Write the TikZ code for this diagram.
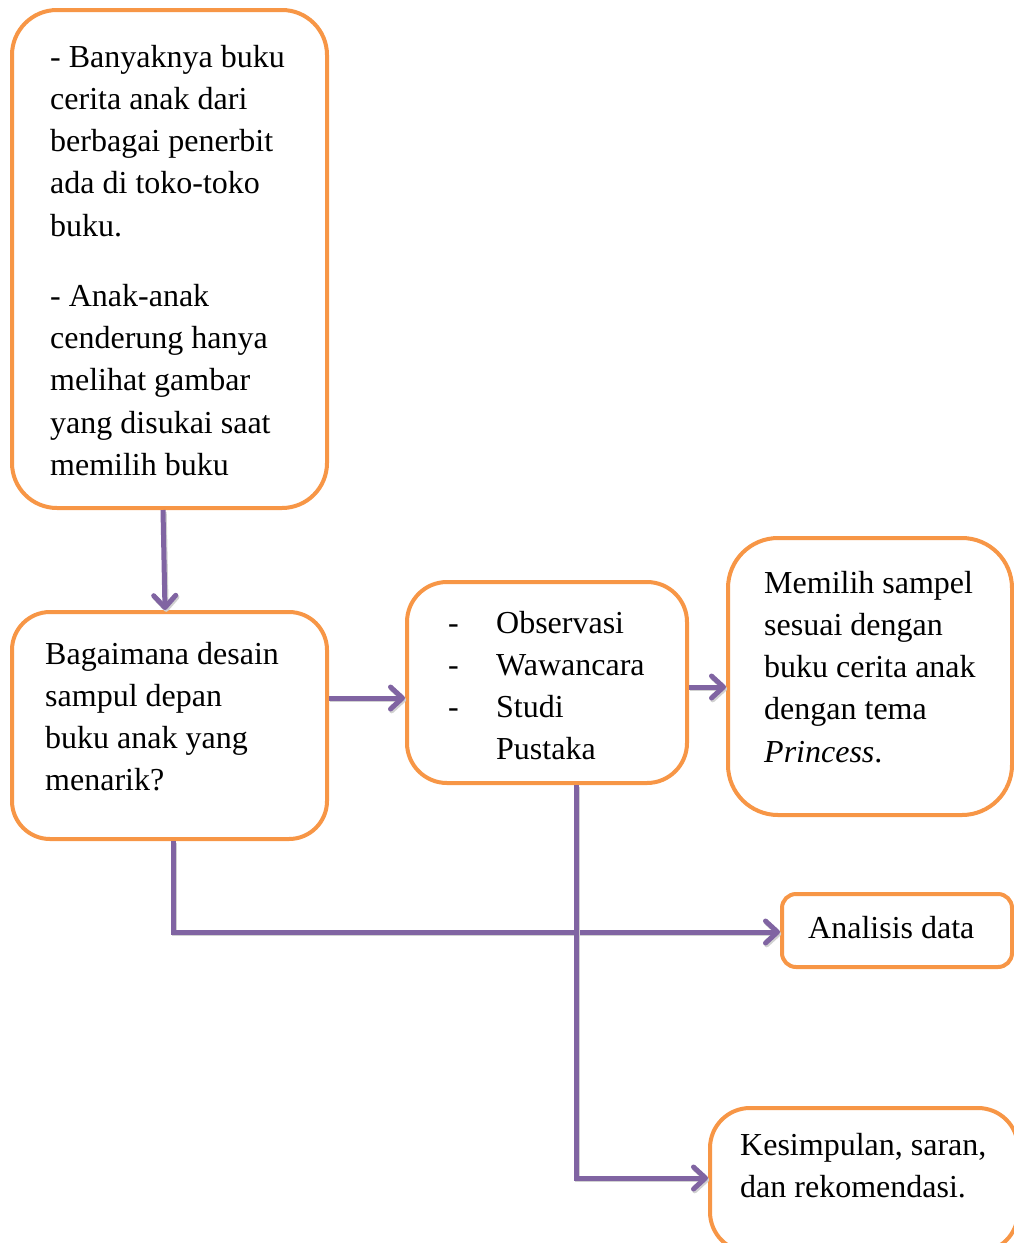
\documentclass[tikz,border=0pt]{standalone}
\usepackage{fontspec}
\setmainfont{Liberation Serif}
\usetikzlibrary{arrows.meta}
\definecolor{boxorange}{HTML}{F79646}
\definecolor{arrowpurple}{HTML}{8064A2}
\tikzset{
  box/.style={draw=boxorange, line width=4pt, fill=white, inner sep=0pt},
  txt/.style={anchor=base west, inner sep=0pt},
  flow/.style={draw=arrowpurple, line width=5pt,
    -{Straight Barb[length=12pt,width=22pt,round]},
    preaction={draw=black!18, line width=5pt, -{Straight Barb[length=12pt,width=22pt,round]}, transform canvas={xshift=1.2pt,yshift=-1.8pt}}},
}
\newcommand{\bodyfont}{\fontsize{32}{42.3}\selectfont}
\begin{document}
\begin{tikzpicture}[x=1pt,y=-1pt]
\useasboundingbox (0,0) rectangle (1014,1243);
% boxes
\node[box, minimum width=315pt, minimum height=498pt, rounded corners=45pt] (b1) at (169.5,259) {};
\node[box, minimum width=315pt, minimum height=227pt, rounded corners=38pt] (b2) at (169.5,725.5) {};
\node[box, minimum width=280pt, minimum height=201pt, rounded corners=40pt] (b3) at (547,682.5) {};
\node[box, minimum width=284pt, minimum height=277pt, rounded corners=50pt] (b4) at (870,676.5) {};
\node[box, minimum width=230pt, minimum height=73pt, rounded corners=14pt] (b5) at (897,930.5) {};
\node[box, minimum width=308pt, minimum height=144pt, rounded corners=40pt] (b6) at (864,1180) {};
% texts
\node[txt] (t1) at (50,67) {\parbox[t]{300pt}{\bodyfont - Banyaknya buku\\cerita anak dari\\berbagai penerbit\\ada di toko-toko\\buku.\\[27.7pt]- Anak-anak\\cenderung hanya\\melihat gambar\\yang disukai saat\\memilih buku}};
\node[txt] (t2) at (45,664) {\parbox[t]{300pt}{\bodyfont Bagaimana desain\\sampul depan\\buku anak yang\\menarik?}};
\node[txt] (t3) at (448,633) {\parbox[t]{300pt}{\bodyfont\makebox[48pt][l]{-}Observasi\\\makebox[48pt][l]{-}Wawancara\\\makebox[48pt][l]{-}Studi\\\hspace*{48pt}Pustaka}};
\node[txt] (t4) at (764,593) {\parbox[t]{300pt}{\bodyfont Memilih sampel\\sesuai dengan\\buku cerita anak\\dengan tema\\\textit{Princess}.}};
\node[txt] (t5) at (808,938) {\parbox[t]{300pt}{\bodyfont Analisis data}};
\node[txt] (t6) at (740,1155) {\parbox[t]{300pt}{\bodyfont Kesimpulan, saran,\\dan rekomendasi.}};
% helper coordinates
\coordinate (y1) at (0,698);
\coordinate (y2) at (0,687);
\coordinate (c1) at (173,932);
\coordinate (c2) at (576,1178);
% connectors
\draw[flow] ([xshift=-6.5pt]b1.south) -- ([xshift=-4.5pt]b2.north);
\draw[flow] (b2.east |- y1) -- (b3.west |- y1);
\draw[flow] (b3.east |- y2) -- (b4.west |- y2);
\draw[flow] (b2.south -| c1) -- (c1) -- (b5.west |- c1);
\draw[flow] (b3.south -| c2) -- (c2) -- (b6.west |- c2);
\end{tikzpicture}
\end{document}
